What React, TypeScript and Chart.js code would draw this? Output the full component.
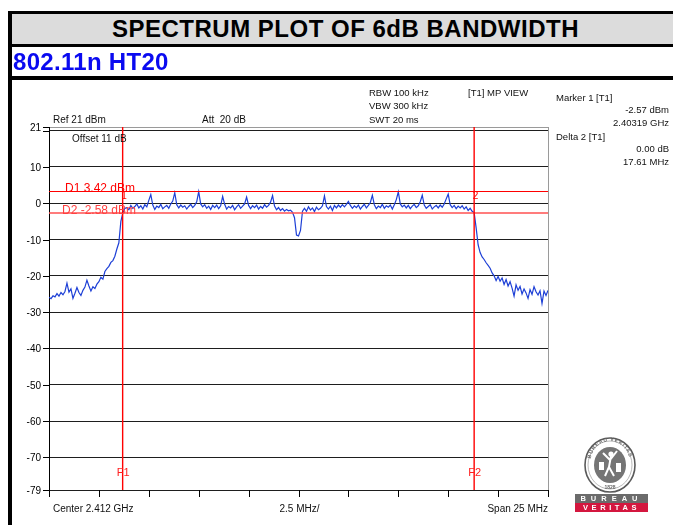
import React, { useEffect, useRef } from "react";
import { Chart, registerables } from "chart.js";

Chart.register(...registerables);

// ---- Data ----
const START_MHZ = 2399.5;
const STEP_MHZ = 0.1;
const traceDbm: number[] = [
  -25.9, -26.3, -25.5, -25.8, -24.9, -25.6, -24.6, -25.2, -24.3, -22.0,
  -24.5, -23.6, -26.2, -24.8, -23.2, -24.6, -25.4, -24.0, -23.1, -21.2,
  -22.8, -24.2, -23.0, -23.5, -22.3, -21.6, -20.4, -20.9, -18.8, -18.0,
  -17.4, -16.3, -15.8, -14.6, -12.6, -10.9, -5.0, -2.6, -1.4, -1.2,
  -1.8, -0.6, -1.4, -0.9, -0.2, -1.3, -0.7, -1.6, -0.4, -1.0,
  0.8, 2.4, -0.5, -1.7, -0.8, -1.2, -0.3, -1.5, -1.0, -0.6,
  -1.4, -0.2, 0.6, 2.9, -0.4, -1.3, -0.5, -1.1, -0.7, -1.6,
  -0.9, -0.3, -1.2, -0.6, 0.4, 3.2, -0.2, -1.0, -0.4, -1.4,
  -0.8, -1.7, -0.6, -1.2, -0.5, -1.5, -0.7, 1.9, -0.3, -1.6,
  -0.9, -1.3, -0.6, -1.8, -1.0, -0.4, -1.4, -0.8, -0.2, 1.7,
  -0.6, -1.5, -0.7, -1.2, -0.5, -1.6, -0.9, -1.4, -0.4, -1.1,
  -0.6, 0.3, 2.1, -0.8, -1.8, -1.2, -2.0, -1.5, -2.2, -1.7,
  -2.1, -1.9, -2.5, -4.0, -8.8, -9.0, -7.5, -2.2, -1.4, -2.2,
  -1.0, -1.9, -1.3, -2.3, -1.1, -1.8, -1.4, -0.7, 2.0, -0.9,
  -1.6, -0.8, -2.0, -0.6, -1.3, -0.5, -1.1, -0.4, -1.0, -0.3,
  0.5, -0.6, -1.4, -0.7, -1.2, -0.5, -1.6, -0.9, -0.3, -1.3,
  -0.6, 0.2, 2.2, -0.4, -1.5, -0.8, -1.2, -0.3, -1.4, -0.7,
  -1.1, -0.5, -1.6, -0.4, 1.0, 3.1, -0.2, -1.0, -0.5, -1.3,
  -0.6, -1.5, -0.8, -0.3, -1.2, -0.7, 0.4, 2.2, -0.5, -1.4,
  -0.9, -0.4, -1.6, -1.0, -0.6, -1.3, -0.5, -1.1, -0.2, 1.2,
  2.5, -0.4, -1.2, -0.6, -1.5, -0.8, -1.3, -0.7, -1.6, -1.0,
  -2.0, -1.4, -2.2, -2.6, -6.8, -11.5, -13.6, -14.8, -15.5, -16.4,
  -17.1, -17.9, -19.2, -20.0, -21.3, -20.2, -21.5, -20.6, -22.4, -21.0,
  -22.8, -21.6, -23.4, -25.6, -22.5, -24.0, -22.9, -25.0, -23.6, -24.7,
  -26.2, -23.8, -25.1, -23.0, -24.4, -25.3, -24.1, -27.6, -24.2, -25.4,
  -24.0,
];
const yTickValues = [21, 20, 10, 0, -10, -20, -30, -40, -50, -60, -70, -79];
const yTickLabels = ["21", "", "10", "0", "-10", "-20", "-30", "-40", "-50", "-60", "-70", "-79"];
const xTickValues = [2399.5, 2402, 2404.5, 2407, 2409.5, 2412, 2414.5, 2417, 2419.5, 2422, 2424.5];
const X_MIN = 2399.5;
const X_MAX = 2424.5;
const Y_MIN = -79;
const Y_MAX = 21;
const displayLines = [
  { name: "D1", value: 3.42, label: "D1 3.42 dBm" },
  { name: "D2", value: -2.58, label: "D2 -2.58 dBm" },
];
const freqLines = [
  { name: "F1", value: 2403.19 },
  { name: "F2", value: 2420.8 },
];
const markers = [
  { label: "1", freq: 2403.19 },
  { label: "2", freq: 2420.8 },
];

const FONT = '"Liberation Sans", Arial, sans-serif';

const overlayPlugin = {
  id: "overlay",
  afterDatasetsDraw(chart: any) {
    const { ctx, chartArea: a, scales } = chart;
    const x = scales.x;
    const y = scales.y;
    ctx.save();

    const hline = (x1: number, x2: number, yy: number) => {
      ctx.beginPath();
      ctx.moveTo(x1, yy);
      ctx.lineTo(x2, yy);
      ctx.stroke();
    };
    const vline = (xx: number, y1: number, y2: number) => {
      ctx.beginPath();
      ctx.moveTo(xx, y1);
      ctx.lineTo(xx, y2);
      ctx.stroke();
    };

    // right border
    ctx.strokeStyle = "#9a9a9a";
    ctx.lineWidth = 1;
    vline(Math.round(a.right) + 0.5, a.top, a.bottom);

    // y ticks + labels
    ctx.strokeStyle = "#000";
    ctx.fillStyle = "#000";
    ctx.font = `10px ${FONT}`;
    ctx.textAlign = "right";
    ctx.textBaseline = "middle";
    yTickValues.forEach((v, i) => {
      const py = Math.round(y.getPixelForValue(v)) + 0.5;
      hline(a.left - 6, a.left, py);
      if (yTickLabels[i]) ctx.fillText(yTickLabels[i], a.left - 8, py + 0.5);
    });

    // x ticks
    xTickValues.forEach((v) => {
      const px = Math.round(x.getPixelForValue(v)) + 0.5;
      vline(px, a.bottom, a.bottom + 7);
    });

    // display lines
    const d1 = displayLines[0];
    const d2 = displayLines[1];
    const yD1 = Math.round(y.getPixelForValue(d1.value)) + 0.5;
    const yD2 = Math.round(y.getPixelForValue(d2.value));
    ctx.strokeStyle = "#ff0000";
    ctx.lineWidth = 1;
    hline(a.left, a.right, yD1);
    ctx.strokeStyle = "#ff5050";
    ctx.lineWidth = 1.6;
    hline(a.left, a.right, yD2);

    // frequency lines
    ctx.strokeStyle = "#ff0000";
    ctx.lineWidth = 1.4;
    freqLines.forEach((f) => {
      const px = x.getPixelForValue(f.value);
      vline(px, a.top, a.bottom);
    });

    // labels
    ctx.textBaseline = "alphabetic";
    ctx.textAlign = "left";
    ctx.font = `12px ${FONT}`;
    ctx.fillStyle = "#ff0000";
    ctx.fillText(d1.label, 65, yD1 + 0.5);
    ctx.fillStyle = "#ff4040";
    ctx.fillText(d2.label, 62, yD2 + 1);

    ctx.fillStyle = "#ff2020";
    ctx.font = `11px ${FONT}`;
    ctx.textAlign = "center";
    freqLines.forEach((f) => {
      const px = x.getPixelForValue(f.value);
      ctx.fillText(f.name, px + 0.5, 476);
    });

    ctx.font = `10px ${FONT}`;
    ctx.fillStyle = "#ff0000";
    markers.forEach((m) => {
      const px = x.getPixelForValue(m.freq);
      ctx.fillText(m.label, px + 1.5, 199);
    });

    // header / footer texts
    ctx.fillStyle = "#111";
    ctx.font = `10px ${FONT}`;
    ctx.textAlign = "left";
    ctx.fillText("Ref 21 dBm", 53, 123);
    ctx.fillText("Att  20 dB", 202, 123);
    ctx.fillText("Offset 11 dB", 72, 142);
    ctx.font = `9.5px ${FONT}`;
    ctx.fillText("RBW 100 kHz", 369, 96);
    ctx.fillText("VBW 300 kHz", 369, 109);
    ctx.fillText("SWT 20 ms", 369, 123);
    ctx.fillText("[T1] MP VIEW", 468, 96);
    ctx.fillText("Marker 1 [T1]", 556, 101);
    ctx.fillText("Delta 2 [T1]", 556, 140);
    ctx.textAlign = "right";
    ctx.fillText("-2.57 dBm", 669, 113);
    ctx.fillText("2.40319 GHz", 669, 126);
    ctx.fillText("0.00 dB", 669, 152);
    ctx.fillText("17.61 MHz", 669, 165);

    ctx.font = `10px ${FONT}`;
    ctx.textAlign = "left";
    ctx.fillText("Center 2.412 GHz", 53, 512);
    ctx.textAlign = "center";
    ctx.fillText("2.5 MHz/", x.getPixelForValue((X_MIN + X_MAX) / 2) + 1, 512);
    ctx.textAlign = "right";
    ctx.fillText("Span 25 MHz", a.right, 512);

    ctx.restore();
  },
};

function Logo() {
  return (
    <svg
      width={90}
      height={85}
      viewBox="0 0 90 85"
      style={{ position: "absolute", left: 570, top: 434 }}
    >
      <defs>
        <path id="ringTop" d="M 20 30 A 20 23 0 0 1 60 30" />
      </defs>
      <ellipse cx={40} cy={31} rx={25} ry={27} fill="#fff" stroke="#5a5a5a" strokeWidth={1.6} />
      <ellipse cx={40} cy={31} rx={22} ry={24} fill="none" stroke="#8a8a8a" strokeWidth={0.6} />
      <text fontSize={5} fill="#666" fontFamily={FONT} fontWeight="bold" letterSpacing={0.8}>
        <textPath href="#ringTop" startOffset="8%">BUREAU VERITAS</textPath>
      </text>
      <ellipse cx={40} cy={31} rx={16} ry={18} fill="#757575" />
      <circle cx={41} cy={20} r={2.6} fill="#fff" />
      <path d="M41 22 L39 33 L35 42 M39 33 L44 42 M40 26 L33 19 M40 26 L47 17" stroke="#fff" strokeWidth={2} fill="none" />
      <rect x={29} y={28} width={5} height={8} fill="#fff" />
      <rect x={46} y={29} width={5} height={9} fill="#fff" />
      <text x={40} y={55} fontSize={5} fill="#666" fontFamily={FONT} fontWeight="bold" textAnchor="middle">1828</text>
      <rect x={5} y={60} width={73} height={9} fill="#6b6b6b" />
      <text x={41.5} y={67.3} fontSize={7.5} fill="#fff" fontFamily={FONT} fontWeight="bold" textAnchor="middle" letterSpacing={5}>BUREAU</text>
      <rect x={5} y={69} width={73} height={9} fill="#d4173f" />
      <text x={41.5} y={76.3} fontSize={7.5} fill="#fff" fontFamily={FONT} fontWeight="bold" textAnchor="middle" letterSpacing={3.6}>VERITAS</text>
    </svg>
  );
}

export default function App() {
  const canvasRef = useRef<HTMLCanvasElement | null>(null);

  useEffect(() => {
    const canvas = canvasRef.current;
    if (!canvas) return;
    const points = traceDbm.map((v, i) => ({ x: START_MHZ + i * STEP_MHZ, y: v }));
    const chart = new Chart(canvas, {
      type: "line",
      data: {
        datasets: [
          {
            label: "Trace",
            data: points,
            borderColor: "#1d3fd6",
            borderWidth: 1.2,
            pointRadius: 0,
            tension: 0,
            fill: false,
          },
        ],
      },
      options: {
        responsive: false,
        animation: false,
        devicePixelRatio: 1,
        layout: { padding: { left: 49, right: 125, top: 127, bottom: 35 } },
        plugins: { legend: { display: false }, tooltip: { enabled: false }, title: { display: false } },
        scales: {
          x: {
            type: "linear",
            min: X_MIN,
            max: X_MAX,
            display: false,
          },
          y: {
            type: "linear",
            min: Y_MIN,
            max: Y_MAX,
            display: true,
            afterBuildTicks: (scale: any) => {
              scale.ticks = yTickValues.map((v) => ({ value: v }));
            },
            ticks: { display: false },
            grid: {
              drawTicks: false,
              lineWidth: 1,
              color: (c: any) => (c.tick && c.tick.value === Y_MAX ? "#9a9a9a" : "#1e1e1e"),
            },
            border: { display: true, color: "#000", width: 1 },
          },
        },
      },
      plugins: [overlayPlugin],
    });
    return () => chart.destroy();
  }, []);

  return (
    <div
      style={{
        position: "absolute",
        left: 0,
        top: 0,
        width: 673,
        height: 525,
        overflow: "hidden",
        background: "#fff",
        fontFamily: FONT,
      }}
    >
      <canvas ref={canvasRef} width={673} height={525} style={{ position: "absolute", left: 0, top: 0 }} />
      {/* frame */}
      <div style={{ position: "absolute", left: 8, top: 11, width: 700, height: 3, background: "#000" }} />
      <div style={{ position: "absolute", left: 8, top: 11, width: 4, height: 520, background: "#000" }} />
      <div
        style={{
          position: "absolute",
          left: 12,
          top: 14,
          width: 667,
          height: 30,
          background: "#dcdcdc",
          display: "flex",
          alignItems: "center",
          justifyContent: "center",
          fontWeight: "bold",
          fontSize: 24,
          letterSpacing: 0.5,
          color: "#000",
          whiteSpace: "nowrap",
        }}
      >
        SPECTRUM PLOT OF 6dB BANDWIDTH
      </div>
      <div style={{ position: "absolute", left: 8, top: 43.5, width: 700, height: 3.5, background: "#000" }} />
      <div
        style={{
          position: "absolute",
          left: 13,
          top: 47,
          height: 29,
          display: "flex",
          alignItems: "center",
          fontWeight: "bold",
          fontSize: 24,
          letterSpacing: 0.3,
          color: "#0a0af0",
          whiteSpace: "nowrap",
        }}
      >
        802.11n HT20
      </div>
      <div style={{ position: "absolute", left: 8, top: 76, width: 700, height: 4, background: "#000" }} />
      <Logo />
    </div>
  );
}
